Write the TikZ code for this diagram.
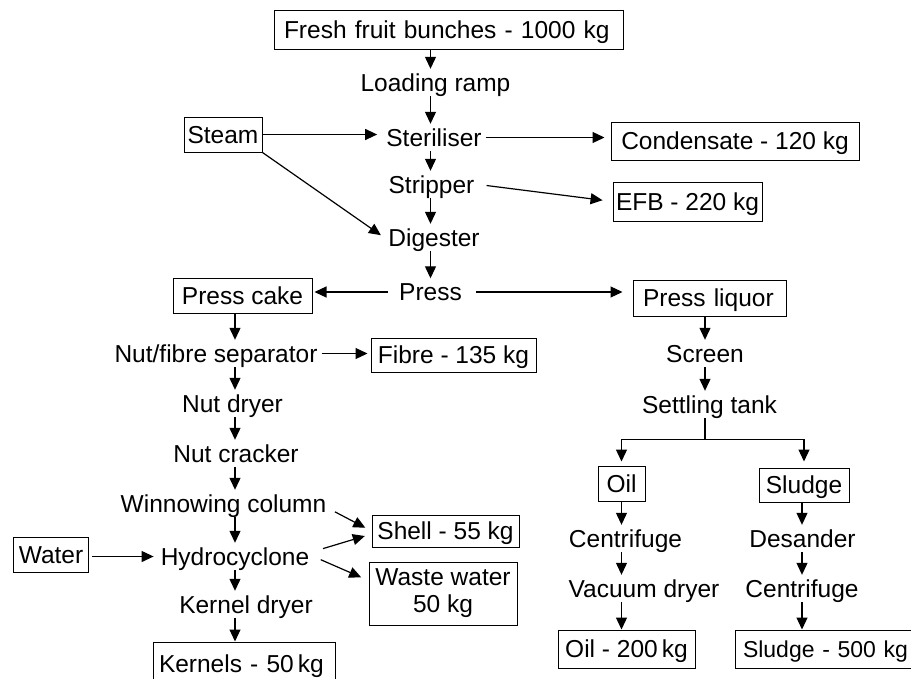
\documentclass[tikz,border=0pt]{standalone}
\usepackage{fontspec}
\setmainfont{Liberation Sans}
\usetikzlibrary{arrows.meta}
\begin{document}
\begin{tikzpicture}[x=1pt,y=-1pt,font=\fontsize{24.5}{27}\selectfont,
  stage/.style={anchor=base,inner xsep=4pt,inner ysep=0pt,text height=22pt,text depth=5pt},
  box/.style 2 args={draw,line width=1pt,inner sep=0pt,minimum width=#1,minimum height=#2,text height=22pt,text depth=5pt},
  lbox/.style 2 args={draw,line width=1pt,inner xsep=10pt,inner ysep=0pt,text width=#1,align=left,minimum height=#2,text height=22pt,text depth=5pt},
  flow/.style={line width=1.2pt,arrows={-Triangle[length=12pt,width=11pt]}}]
\useasboundingbox (0,0) rectangle (911,678);
% main line
\node[lbox={329}{39}] (ffb) at (448.5,29.5) {Fresh fruit bunches - 1000 kg};
\node[stage] (ramp) at (435.5,91) {Loading ramp};
\node[stage] (steril) at (434,146) {Steriliser};
\node[stage] (stripper) at (431.5,193) {Stripper};
\node[stage] (digester) at (434,246) {Digester};
\node[stage] (press) at (430.5,300.5) {Press};
\node[box={78}{35}] (steam) at (223,134.5) {Steam};
\node[box={248}{38}] (cond) at (735,141) {Condensate - 120 kg};
\node[box={149}{39}] (efb) at (687.5,201.5) {EFB - 220 kg};
% nut side
\node[box={139}{35}] (presscake) at (242.5,295.5) {Press cake};
\node[stage] (nutsep) at (216,362) {Nut/fibre separator};
\node[box={165}{34}] (fibre) at (453.5,355) {Fibre - 135 kg};
\node[stage] (nutdryer) at (232.5,412) {Nut dryer};
\node[stage] (cracker) at (236,462) {Nut cracker};
\node[stage] (winnow) at (223.5,512) {Winnowing column};
\node[stage] (hydro) at (235,565) {Hydrocyclone};
\node[stage] (kdryer) at (246,613) {Kernel dryer};
\node[lbox={170}{44},inner xsep=6pt] (kernels) at (244,664) {Kernels - 50\,kg};
\node[box={75}{35}] (water) at (51,554.5) {Water};
\node[box={147}{32}] (shell) at (445.5,531) {Shell - 55 kg};
\node[draw,line width=1pt,inner sep=0pt,minimum width=148,minimum height=63,align=center] (waste) at (443,593.5) {Waste water\\50 kg};
% liquor side
\node[lbox={133}{36}] (liquor) at (709.5,298) {Press liquor};
\node[stage] (screen) at (705,362) {Screen};
\node[stage] (settling) at (709.5,413) {Settling tank};
\node[box={47}{35}] (oilbox) at (621.5,483.5) {Oil};
\node[box={90}{34}] (sludgebox) at (804,485) {Sludge};
\node[stage] (centL) at (625.5,547) {Centrifuge};
\node[stage] (vacuum) at (644,597) {Vacuum dryer};
\node[box={137}{38}] (oil200) at (626.5,649) {Oil - 200\,kg};
\node[stage] (desander) at (802.5,547) {Desander};
\node[stage] (centR) at (802,597) {Centrifuge};
\node[lbox={168}{38},inner xsep=8pt,font=\fontsize{23}{27}\selectfont] (sludge500) at (827,649) {Sludge - 500 kg};

\foreach \a/\b in {ffb/ramp,ramp/steril,steril/stripper,stripper/digester,digester/press}
  \draw[flow] (\a.south -| press) -- (\b.north -| press);
\foreach \a/\b in {presscake/nutsep,nutsep/nutdryer,nutdryer/cracker,cracker/winnow,winnow/hydro,hydro/kdryer,kdryer/kernels}
  \draw[flow] (\a.south -| hydro) -- (\b.north -| hydro);
\foreach \a/\b in {liquor/screen,screen/settling}
  \draw[flow] (\a.south -| screen) -- (\b.north -| screen);
\foreach \a/\b in {oilbox/centL,centL/vacuum,vacuum/oil200}
  \draw[flow] (\a.south -| oilbox) -- (\b.north -| oilbox);
\foreach \a/\b in {sludgebox/desander,desander/centR,centR/sludge500}
  \draw[flow] (\a.south -| centR) -- (\b.north -| centR);

\draw[flow,shorten >=5pt] (steam.east) -- (steril.west |- steam.east);
\draw[flow,shorten >=4pt] (steam.south east) -- (digester.west);
\draw[flow,shorten >=6pt] (steril.east) -- (cond.west |- steril.east);
\draw[flow,shorten <=8pt,shorten >=10pt] (stripper.east) -- (efb.west);
\draw[flow,shorten <=7pt,shorten >=2pt] (press.west) -- (presscake.east |- press.west);
\draw[flow,shorten <=10pt,shorten >=10pt] (press.east) -- (liquor.west |- press.east);
\draw[flow,shorten >=3pt] (nutsep.east) -- (fibre.west |- nutsep.east);
\draw[flow,shorten <=5pt,shorten >=7pt] ([yshift=-6pt]winnow.east) -- (shell.west);
\draw[flow,shorten <=10pt,shorten >=7pt] ([yshift=5pt]hydro.east) -- ([yshift=-3pt]shell.west);
\draw[flow,shorten <=8pt,shorten >=8pt] (hydro.east) -- ([yshift=13pt]waste.west);
\draw[flow,shorten <=3pt,shorten >=3pt] (water.east |- hydro.west) -- (hydro.west);

\draw[line width=1.2pt] (settling.south -| screen) -- ++(0,21) coordinate (fork);
\draw[flow,shorten >=4pt] (fork) -| (oilbox.north);
\draw[flow,shorten >=6pt] (fork) -| (sludgebox.north);
\end{tikzpicture}
\end{document}
